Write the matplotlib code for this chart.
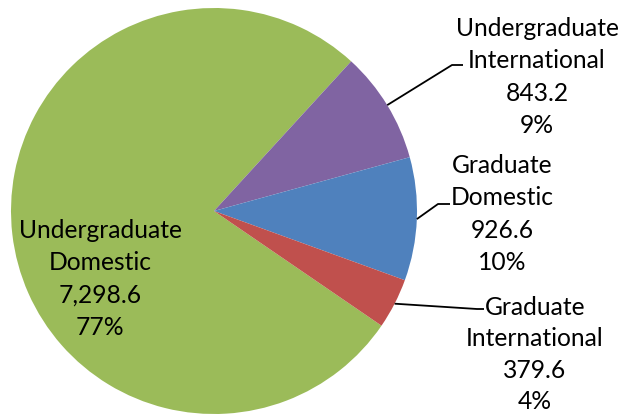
import matplotlib
matplotlib.use("Agg")
import matplotlib.pyplot as plt
import numpy as np

categories = ["Undergraduate\nDomestic", "Undergraduate\nInternational",
              "Graduate\nDomestic", "Graduate\nInternational"]
values = [7298.6, 843.2, 926.6, 379.6]
value_labels = ["7,298.6", "843.2", "926.6", "379.6"]
colors = ["#9BBB59", "#8064A2", "#4F81BD", "#C0504D"]

W, H = 622, 415
fig = plt.figure(figsize=(W / 100, H / 100), dpi=100)
cx, cy, R = 214, 211, 203
ax = fig.add_axes([(cx - R) / W, (H - cy - R) / H, 2 * R / W, 2 * R / H])
ax.set_xlim(-1, 1)
ax.set_ylim(-1, 1)
ax.set_aspect("equal")
ax.axis("off")

wedges, _ = ax.pie(values, colors=colors, startangle=325.6, counterclock=False,
                   radius=1, center=(0, 0), wedgeprops=dict(linewidth=0))
ax.set_xlim(-1, 1)
ax.set_ylim(-1, 1)

total = sum(values)
pcts = [f"{round(v / total * 100):d}%" for v in values]


def d(px, py):
    return ((px - cx) / R, (cy - py) / R)


font = dict(family=["Lato", "DejaVu Sans"], fontsize=17.7, color="black",
            ha="center", va="baseline")

# label block: center x, first-line baseline y (pixel layout)
text_pos = [(100, 238), (537, 36), (502, 173), (535, 315)]
line_steps = [32.3, 32.3, 32.3, 31.3]
# leader elbows and ends (pixel layout); None for inside label
leaders = [None, ((452, 65), (463, 65)), ((438, 204), (450, 204)),
           ((477, 309), (484, 309))]

for i, w in enumerate(wedges):
    lines = categories[i].split("\n") + [value_labels[i], pcts[i]]
    px, py = text_pos[i]
    for k, line in enumerate(lines):
        tx, ty = d(px, py + k * line_steps[i])
        ax.text(tx, ty, line, clip_on=False, **font)
    if leaders[i] is not None:
        mid = np.deg2rad((w.theta1 + w.theta2) / 2)
        sx, sy = np.cos(mid), np.sin(mid)
        (ex, ey), (fx, fy) = d(*leaders[i][0]), d(*leaders[i][1])
        ax.plot([sx, ex, fx], [sy, ey, fy], color="black", lw=1.3,
                clip_on=False, solid_capstyle="butt")

fig.savefig("out.png", dpi=100)
